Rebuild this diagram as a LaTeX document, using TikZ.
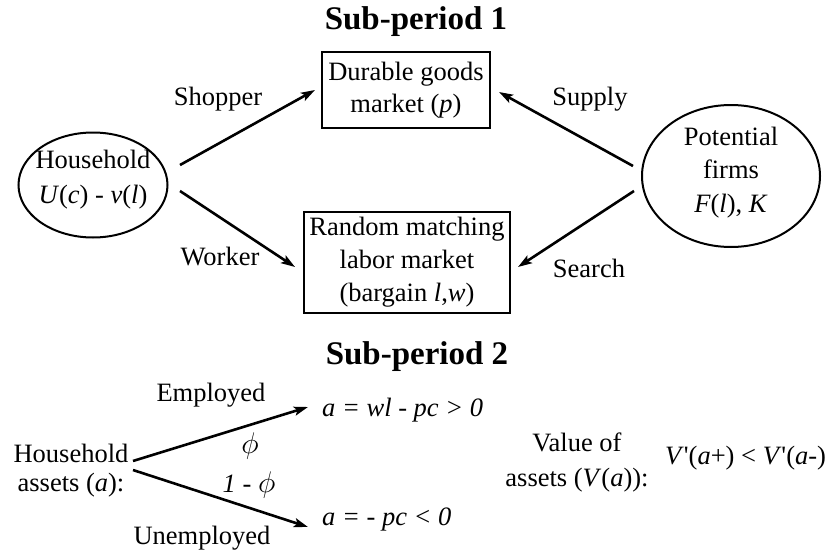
\documentclass[tikz,border=0pt]{standalone}
\usepackage{fontspec}
\setmainfont{Liberation Serif}
\usetikzlibrary{arrows.meta,shapes.geometric}
\begin{document}
\begin{tikzpicture}[x=1pt,y=-1pt,
  font=\fontsize{26.5}{32}\selectfont,
  mkbox/.style={draw, line width=2pt, align=center, inner sep=0pt},
  oval/.style={ellipse, draw, line width=2pt, inner sep=0pt},
  txt/.style={align=center, inner sep=0pt},
  lbl/.style={anchor=base, inner sep=0pt},
  ttl/.style={anchor=base, inner sep=0pt, font=\fontsize{33}{38}\selectfont\bfseries},
  arr/.style={-{Stealth[length=14pt,width=9pt,inset=3pt]}, line width=2.6pt}]
\useasboundingbox (0,0) rectangle (827,551);

% Sub-period 1
\node[ttl] (t1) at (416,30) {Sub-period 1};
\node[mkbox, minimum width=168pt, minimum height=76pt] (dur) at (406,90) {Durable goods\\market (\textit{p})};
\node[mkbox, minimum width=206pt, minimum height=101pt, font=\fontsize{26.5}{33}\selectfont] (lab) at (407,262.5) {Random matching\\labor market\\(bargain \textit{l},\textit{w})};
\node[oval, minimum width=149pt, minimum height=105pt] (hh) at (93,185) {};
\node[txt, font=\fontsize{26.5}{35}\selectfont] (hht) at (93,180) {Household\\\textit{U}(\textit{c}) - \textit{v}(\textit{l})};
\node[oval, minimum width=178pt, minimum height=142pt] (pf) at (731,176) {};
\node[txt, font=\fontsize{26.5}{33.5}\selectfont] (pft) at (731,172.5) {Potential\\firms\\\textit{F}(\textit{l}), \textit{K}};

\coordinate (hhA) at (180,165);
\coordinate (hhB) at (180,191);
\coordinate (durL) at (315,90);
\coordinate (durR) at (499,92);
\coordinate (labL) at (295,267);
\coordinate (labR) at (518,267);
\coordinate (pfA) at (633,166);
\coordinate (pfB) at (634,191);

\draw[arr] (hhA) -- (durL);
\draw[arr] (hhB) -- (labL);
\draw[arr] (pfA) -- (durR);
\draw[arr] (pfB) -- (labR);

\node[lbl] (shop) at (218,105) {Shopper};
\node[lbl] (work) at (220,265) {Worker};
\node[lbl] (sup) at (590,105) {Supply};
\node[lbl] (sea) at (589,277) {Search};

% Sub-period 2
\node[ttl] (t2) at (417,364) {Sub-period 2};
\node[txt, font=\fontsize{26.5}{29}\selectfont] (ha) at (71,471) {Household\\assets (\textit{a}):};
\coordinate (haA) at (133,461);
\coordinate (haB) at (133,470);
\node[lbl, anchor=base west] (emp) at (322,416) {\itshape a = wl - pc > 0};
\node[lbl, anchor=base west] (unemp) at (322,525) {\itshape a = - pc < 0};
\coordinate (empT) at (308,407);
\coordinate (unempT) at (308,527);
\draw[arr] (haA) -- (empT);
\draw[arr] (haB) -- (unempT);
\node[lbl] (elab) at (211,401) {Employed};
\node[lbl] (ulab) at (202,544) {Unemployed};
\node[inner sep=0pt] (phi) at (250,446) {\scalebox{1.2}{$\phi$}};
\node[lbl] (phi2) at (249,492) {\textit{1 -} \scalebox{1.2}{$\phi$}};
\node[txt, font=\fontsize{26.5}{35}\selectfont] (va) at (577,462) {Value of\\assets (\textit{V}(\textit{a})):};
\node[lbl, anchor=base west] (vd) at (665,464) {\textit{V}\textquotesingle(\textit{a}+) < \textit{V}\textquotesingle(\textit{a}-)};
\end{tikzpicture}
\end{document}
